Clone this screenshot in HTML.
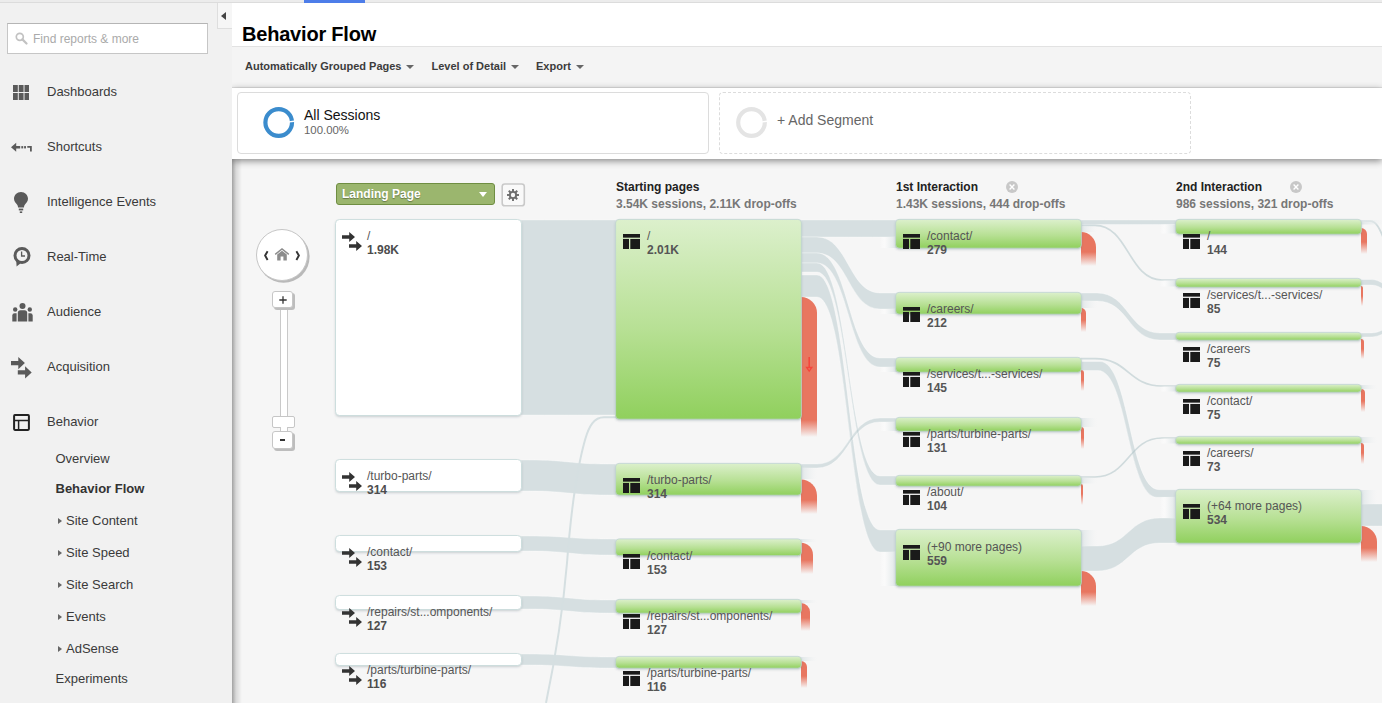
<!DOCTYPE html>
<html><head><meta charset="utf-8"><title>Behavior Flow</title>
<style>
html,body{margin:0;padding:0}
body{width:1382px;height:703px;overflow:hidden;position:relative;background:#f6f6f6;font-family:"Liberation Sans",sans-serif}
.ab{position:absolute}
.t{position:absolute;white-space:nowrap;line-height:1}
.gn{position:absolute;box-sizing:border-box;border-radius:4px;border:1px solid rgba(165,195,185,.6);
 background:linear-gradient(to bottom,#ddf0cd 0%,#b7e094 55%,#90d05d 100%);box-shadow:0 1px 2px rgba(0,0,0,.28)}
.wn{position:absolute;box-sizing:border-box;border-radius:4px;border:1px solid #cfdedd;background:#fff;box-shadow:0 1px 2px rgba(0,0,0,.25)}
.rd{position:absolute}
#side{position:absolute;left:0;top:0;width:232px;height:703px;background:#f1f1f1}
#canvas{position:absolute;left:232px;top:159px;width:1150px;height:544px;background:#f6f6f6;overflow:hidden}
#cv{position:absolute;left:-232px;top:-159px;width:1382px;height:703px}
</style></head><body>
<div id="canvas"><div id="cv">
<svg class="ab" style="left:0;top:0" width="1382" height="703" viewBox="0 0 1382 703"><defs>
<linearGradient id="gg" x1="0" y1="0" x2="0" y2="1"><stop offset="0" stop-color="#dcf0cc"/><stop offset=".55" stop-color="#b7e094"/><stop offset="1" stop-color="#90d05d"/></linearGradient>
<linearGradient id="fl" x1="0" y1="0" x2="1" y2="0"><stop offset="0" stop-color="#fff" stop-opacity="0"/><stop offset=".3" stop-color="#fbfbfb" stop-opacity=".8"/><stop offset="1" stop-color="#dee5e7"/></linearGradient>
<linearGradient id="fr" x1="0" y1="0" x2="1" y2="0"><stop offset="0" stop-color="#dfe6e8"/><stop offset="1" stop-color="#eef1f2" stop-opacity="0"/></linearGradient>
<filter id="sh" x="-5%" y="-50%" width="110%" height="200%"><feGaussianBlur stdDeviation="0.9"/></filter>
<linearGradient id="r1" x1="0" y1="0" x2="0" y2="1"><stop offset="0" stop-color="#e87660"/><stop offset="0.879" stop-color="#e87660"/><stop offset="1" stop-color="#e87660" stop-opacity="0"/></linearGradient><linearGradient id="r2" x1="0" y1="0" x2="0" y2="1"><stop offset="0" stop-color="#e87660"/><stop offset="0.593" stop-color="#e87660"/><stop offset="1" stop-color="#e87660" stop-opacity="0"/></linearGradient><linearGradient id="r3" x1="0" y1="0" x2="0" y2="1"><stop offset="0" stop-color="#e87660"/><stop offset="0.553" stop-color="#e87660"/><stop offset="1" stop-color="#e87660" stop-opacity="0"/></linearGradient><linearGradient id="r4" x1="0" y1="0" x2="0" y2="1"><stop offset="0" stop-color="#e87660"/><stop offset="0.536" stop-color="#e87660"/><stop offset="1" stop-color="#e87660" stop-opacity="0"/></linearGradient><linearGradient id="r5" x1="0" y1="0" x2="0" y2="1"><stop offset="0" stop-color="#e87660"/><stop offset="0.556" stop-color="#e87660"/><stop offset="1" stop-color="#e87660" stop-opacity="0"/></linearGradient><linearGradient id="r6" x1="0" y1="0" x2="0" y2="1"><stop offset="0" stop-color="#e87660"/><stop offset="0.588" stop-color="#e87660"/><stop offset="1" stop-color="#e87660" stop-opacity="0"/></linearGradient><linearGradient id="r7" x1="0" y1="0" x2="0" y2="1"><stop offset="0" stop-color="#e87660"/><stop offset="0.500" stop-color="#e87660"/><stop offset="1" stop-color="#e87660" stop-opacity="0"/></linearGradient><linearGradient id="r8" x1="0" y1="0" x2="0" y2="1"><stop offset="0" stop-color="#e87660"/><stop offset="0.476" stop-color="#e87660"/><stop offset="1" stop-color="#e87660" stop-opacity="0"/></linearGradient><linearGradient id="r9" x1="0" y1="0" x2="0" y2="1"><stop offset="0" stop-color="#e87660"/><stop offset="0.500" stop-color="#e87660"/><stop offset="1" stop-color="#e87660" stop-opacity="0"/></linearGradient><linearGradient id="r10" x1="0" y1="0" x2="0" y2="1"><stop offset="0" stop-color="#e87660"/><stop offset="0.476" stop-color="#e87660"/><stop offset="1" stop-color="#e87660" stop-opacity="0"/></linearGradient><linearGradient id="r11" x1="0" y1="0" x2="0" y2="1"><stop offset="0" stop-color="#e87660"/><stop offset="0.600" stop-color="#e87660"/><stop offset="1" stop-color="#e87660" stop-opacity="0"/></linearGradient><linearGradient id="r12" x1="0" y1="0" x2="0" y2="1"><stop offset="0" stop-color="#e87660"/><stop offset="0.538" stop-color="#e87660"/><stop offset="1" stop-color="#e87660" stop-opacity="0"/></linearGradient><linearGradient id="r13" x1="0" y1="0" x2="0" y2="1"><stop offset="0" stop-color="#e87660"/><stop offset="0.500" stop-color="#e87660"/><stop offset="1" stop-color="#e87660" stop-opacity="0"/></linearGradient><linearGradient id="r14" x1="0" y1="0" x2="0" y2="1"><stop offset="0" stop-color="#e87660"/><stop offset="0.500" stop-color="#e87660"/><stop offset="1" stop-color="#e87660" stop-opacity="0"/></linearGradient><linearGradient id="r15" x1="0" y1="0" x2="0" y2="1"><stop offset="0" stop-color="#e87660"/><stop offset="0.522" stop-color="#e87660"/><stop offset="1" stop-color="#e87660" stop-opacity="0"/></linearGradient><linearGradient id="r16" x1="0" y1="0" x2="0" y2="1"><stop offset="0" stop-color="#e87660"/><stop offset="0.476" stop-color="#e87660"/><stop offset="1" stop-color="#e87660" stop-opacity="0"/></linearGradient><linearGradient id="r17" x1="0" y1="0" x2="0" y2="1"><stop offset="0" stop-color="#e87660"/><stop offset="0.611" stop-color="#e87660"/><stop offset="1" stop-color="#e87660" stop-opacity="0"/></linearGradient></defs>
<path d="M521,220L523,220C568.5,220 568.5,220 614,220L616,220L616,415L614,415C568.5,415 568.5,415 523,415L521,415Z" fill="#a9bfc4" fill-opacity="0.42" stroke="#fff" stroke-opacity="0.55" stroke-width="0.6"/><path d="M521,460L529,460C568.5,460 568.5,464 608,464L616,464L616,495L608,495C568.5,495 568.5,491 529,491L521,491Z" fill="#a9bfc4" fill-opacity="0.42" stroke="#fff" stroke-opacity="0.55" stroke-width="0.6"/><path d="M521,536L529,536C568.5,536 568.5,539 608,539L616,539L616,555L608,555C568.5,555 568.5,551 529,551L521,551Z" fill="#a9bfc4" fill-opacity="0.42" stroke="#fff" stroke-opacity="0.55" stroke-width="0.6"/><path d="M521,596L529,596C568.5,596 568.5,600 608,600L616,600L616,613L608,613C568.5,613 568.5,609 529,609L521,609Z" fill="#a9bfc4" fill-opacity="0.42" stroke="#fff" stroke-opacity="0.55" stroke-width="0.6"/><path d="M521,654L529,654C568.5,654 568.5,657 608,657L616,657L616,668L608,668C568.5,668 568.5,665 529,665L521,665Z" fill="#a9bfc4" fill-opacity="0.42" stroke="#fff" stroke-opacity="0.55" stroke-width="0.6"/><path d="M801,220L803,220C848.5,220 848.5,220 894,220L896,220L896,237L894,237C848.5,237 848.5,237 803,237L801,237Z" fill="#a9bfc4" fill-opacity="0.42" stroke="#fff" stroke-opacity="0.55" stroke-width="0.6"/><path d="M801,237L817,237C848.5,237 848.5,293 880,293L896,293L896,309L880,309C848.5,309 848.5,253 817,253L801,253Z" fill="#a9bfc4" fill-opacity="0.42" stroke="#fff" stroke-opacity="0.55" stroke-width="0.6"/><path d="M801,253L817,253C848.5,253 848.5,358 880,358L896,358L896,367L880,367C848.5,367 848.5,263 817,263L801,263Z" fill="#a9bfc4" fill-opacity="0.42" stroke="#fff" stroke-opacity="0.55" stroke-width="0.6"/><path d="M801,263L817,263C848.5,263 848.5,476 880,476L896,476L896,485L880,485C848.5,485 848.5,272 817,272L801,272Z" fill="#a9bfc4" fill-opacity="0.42" stroke="#fff" stroke-opacity="0.55" stroke-width="0.6"/><path d="M801,275L817,275C848.5,275 848.5,530 880,530L896,530L896,552L880,552C848.5,552 848.5,297 817,297L801,297Z" fill="#a9bfc4" fill-opacity="0.42" stroke="#fff" stroke-opacity="0.55" stroke-width="0.6"/><path d="M801,464L817,464C848.5,464 848.5,418 880,418L896,418L896,422L880,422C848.5,422 848.5,468 817,468L801,468Z" fill="#a9bfc4" fill-opacity="0.42" stroke="#fff" stroke-opacity="0.55" stroke-width="0.6"/><path d="M1081,220L1083,220C1128.5,220 1128.5,220 1174,220L1176,220L1176,224.5L1174,224.5C1128.5,224.5 1128.5,224.5 1083,224.5L1081,224.5Z" fill="#a9bfc4" fill-opacity="0.42" stroke="#fff" stroke-opacity="0.55" stroke-width="0.6"/><path d="M1081,225.3L1095,225.3C1128.5,225.3 1128.5,280 1162,280L1176,280" fill="none" stroke="#a9bfc4" stroke-opacity="0.5" stroke-width="1.7"/><path d="M1081,293L1097,293C1128.5,293 1128.5,333 1160,333L1176,333L1176,340L1160,340C1128.5,340 1128.5,301 1097,301L1081,301Z" fill="#a9bfc4" fill-opacity="0.42" stroke="#fff" stroke-opacity="0.55" stroke-width="0.6"/><path d="M1081,358.6L1095,358.6C1128.5,358.6 1128.5,386 1162,386L1176,386" fill="none" stroke="#a9bfc4" stroke-opacity="0.5" stroke-width="1.7"/><path d="M1081,361.5L1099.9,361.5C1129.4,361.5 1129.4,489.7 1158.9,489.7L1176,489.7L1176,497.3L1157.1,497.3C1127.6,497.3 1127.6,370.5 1098.1,370.5L1081,370.5Z" fill="#a9bfc4" fill-opacity="0.42" stroke="#fff" stroke-opacity="0.55" stroke-width="0.6"/><path d="M1081,477L1095,477C1128.5,477 1128.5,438 1162,438L1176,438" fill="none" stroke="#a9bfc4" stroke-opacity="0.5" stroke-width="1.7"/><path d="M1081,546L1097,546C1128.5,546 1128.5,518 1160,518L1176,518L1176,543L1160,543C1128.5,543 1128.5,571 1097,571L1081,571Z" fill="#a9bfc4" fill-opacity="0.42" stroke="#fff" stroke-opacity="0.55" stroke-width="0.6"/><path d="M1361,504L1363,504C1380.5,504 1380.5,504 1398,504L1400,504L1400,526L1398,526C1380.5,526 1380.5,526 1363,526L1361,526Z" fill="#a9bfc4" fill-opacity="0.42" stroke="#fff" stroke-opacity="0.55" stroke-width="0.6"/><path d="M1361,221.2L1370,221.2C1382.5,221.2 1382.5,250 1395,250L1404,250" fill="none" stroke="#a9bfc4" stroke-opacity="0.5" stroke-width="1.8"/><path d="M1361,279.5L1370,279.5C1382.5,279.5 1382.5,287 1395,287L1404,287L1404,292.5L1395,292.5C1382.5,292.5 1382.5,285 1370,285L1361,285Z" fill="#a9bfc4" fill-opacity="0.42" stroke="#fff" stroke-opacity="0.55" stroke-width="0.6"/><path d="M1361,333L1370,333C1382.5,333 1382.5,327 1395,327L1404,327L1404,331L1395,331C1382.5,331 1382.5,337 1370,337L1361,337Z" fill="#a9bfc4" fill-opacity="0.42" stroke="#fff" stroke-opacity="0.55" stroke-width="0.6"/><path d="M546,703 C556,655 563,610 567,563 C571,510 578,465 585,440 C589,426 594,417.3 604,417.3 L616,417.3" fill="none" stroke="#d5dfe1" stroke-width="2"/><rect x="880" y="237" width="16" height="11" fill="url(#fl)"/><rect x="880" y="309" width="16" height="5" fill="url(#fl)"/><rect x="880" y="367" width="16" height="5" fill="url(#fl)"/><rect x="880" y="422" width="16" height="9" fill="url(#fl)"/><rect x="880" y="552" width="16" height="34" fill="url(#fl)"/><rect x="1160" y="224.5" width="16" height="9" fill="url(#fl)"/><rect x="1160" y="280.5" width="16" height="6" fill="url(#fl)"/><rect x="1160" y="386.5" width="16" height="5" fill="url(#fl)"/><rect x="1160" y="438.5" width="16" height="5" fill="url(#fl)"/><rect x="1160" y="497" width="16" height="21" fill="url(#fl)"/><rect x="801" y="468" width="16" height="11" fill="url(#fr)"/><rect x="801" y="539" width="16" height="3" fill="url(#fr)"/><rect x="801" y="600" width="16" height="3" fill="url(#fr)"/><rect x="801" y="657" width="16" height="4" fill="url(#fr)"/><rect x="1081" y="226" width="16" height="6" fill="url(#fr)"/><rect x="1081" y="301" width="16" height="7" fill="url(#fr)"/><rect x="1081" y="418" width="16" height="9" fill="url(#fr)"/><rect x="1081" y="477.5" width="16" height="6" fill="url(#fr)"/><rect x="1081" y="530" width="16" height="16" fill="url(#fr)"/><rect x="1361" y="220" width="24" height="4.5" fill="url(#fr)"/><rect x="1361" y="385" width="16" height="4" fill="url(#fr)"/><rect x="1361" y="437" width="16" height="6" fill="url(#fr)"/><rect x="1361" y="490" width="16" height="14" fill="url(#fr)"/><path d="M801,297H801A16,16 0 0 1 817,313V437H801Z" fill="url(#r1)"/><path d="M801,479.6H801A16,16 0 0 1 817,495.6V514H801Z" fill="url(#r2)"/><path d="M801,542.7H801A12,12 0 0 1 813,554.7V574H801Z" fill="url(#r3)"/><path d="M801,603H801A9,9 0 0 1 810,612V631H801Z" fill="url(#r4)"/><path d="M801,661H801A6,6 0 0 1 807,667V688H801Z" fill="url(#r5)"/><path d="M1081,232H1081A15,15 0 0 1 1096,247V266H1081Z" fill="url(#r6)"/><path d="M1081,308H1081A5,5 0 0 1 1086,313V332H1081Z" fill="url(#r7)"/><path d="M1081,370H1081A3,3 0 0 1 1084,373V391H1081Z" fill="url(#r8)"/><path d="M1081,427H1081A3,3 0 0 1 1084,430V449H1081Z" fill="url(#r9)"/><path d="M1081,484H1081A2,2 0 0 1 1083,486V505H1081Z" fill="url(#r10)"/><path d="M1081,571H1081A15,15 0 0 1 1096,586V606H1081Z" fill="url(#r11)"/><path d="M1361,228H1361A6,6 0 0 1 1367,234V254H1361Z" fill="url(#r12)"/><path d="M1361,286H1361A2,2 0 0 1 1363,288V306H1361Z" fill="url(#r13)"/><path d="M1361,339H1361A3,3 0 0 1 1364,342V359H1361Z" fill="url(#r14)"/><path d="M1361,389H1361A4,4 0 0 1 1365,393V412H1361Z" fill="url(#r15)"/><path d="M1361,443H1361A3,3 0 0 1 1364,446V464H1361Z" fill="url(#r16)"/><path d="M1361,526H1361A16,16 0 0 1 1377,542V562H1361Z" fill="url(#r17)"/><rect x="335.5" y="220.8" width="186" height="196" rx="4" fill="#46606a" fill-opacity=".3" filter="url(#sh)"/><rect x="335.5" y="219.5" width="186" height="196" rx="4" fill="#fff" stroke="#c9dbdb" stroke-width=".9"/><rect x="335.5" y="460.8" width="186" height="32" rx="4" fill="#46606a" fill-opacity=".3" filter="url(#sh)"/><rect x="335.5" y="459.5" width="186" height="32" rx="4" fill="#fff" stroke="#c9dbdb" stroke-width=".9"/><rect x="335.5" y="536.8" width="186" height="16" rx="4" fill="#46606a" fill-opacity=".3" filter="url(#sh)"/><rect x="335.5" y="535.5" width="186" height="16" rx="4" fill="#fff" stroke="#c9dbdb" stroke-width=".9"/><rect x="335.5" y="596.8" width="186" height="14" rx="4" fill="#46606a" fill-opacity=".3" filter="url(#sh)"/><rect x="335.5" y="595.5" width="186" height="14" rx="4" fill="#fff" stroke="#c9dbdb" stroke-width=".9"/><rect x="335.5" y="654.8" width="186" height="12" rx="4" fill="#46606a" fill-opacity=".3" filter="url(#sh)"/><rect x="335.5" y="653.5" width="186" height="12" rx="4" fill="#fff" stroke="#c9dbdb" stroke-width=".9"/><rect x="615.6" y="220.70000000000002" width="185.8" height="199.8" rx="3.5" fill="#46606a" fill-opacity=".3" filter="url(#sh)"/><rect x="615.6" y="219.4" width="185.8" height="199.8" rx="3.5" fill="url(#gg)" stroke="#bfd3d2" stroke-width=".8"/><rect x="615.6" y="464.7" width="185.8" height="31.8" rx="3.5" fill="#46606a" fill-opacity=".3" filter="url(#sh)"/><rect x="615.6" y="463.4" width="185.8" height="31.8" rx="3.5" fill="url(#gg)" stroke="#bfd3d2" stroke-width=".8"/><rect x="615.6" y="540.1999999999999" width="185.8" height="16.8" rx="3.5" fill="#46606a" fill-opacity=".3" filter="url(#sh)"/><rect x="615.6" y="538.9" width="185.8" height="16.8" rx="3.5" fill="url(#gg)" stroke="#bfd3d2" stroke-width=".8"/><rect x="615.6" y="600.6999999999999" width="185.8" height="13.8" rx="3.5" fill="#46606a" fill-opacity=".3" filter="url(#sh)"/><rect x="615.6" y="599.4" width="185.8" height="13.8" rx="3.5" fill="url(#gg)" stroke="#bfd3d2" stroke-width=".8"/><rect x="615.6" y="657.6999999999999" width="185.8" height="11.8" rx="3.5" fill="#46606a" fill-opacity=".3" filter="url(#sh)"/><rect x="615.6" y="656.4" width="185.8" height="11.8" rx="3.5" fill="url(#gg)" stroke="#bfd3d2" stroke-width=".8"/><rect x="895.6" y="220.70000000000002" width="185.8" height="28.8" rx="3.5" fill="#46606a" fill-opacity=".3" filter="url(#sh)"/><rect x="895.6" y="219.4" width="185.8" height="28.8" rx="3.5" fill="url(#gg)" stroke="#bfd3d2" stroke-width=".8"/><rect x="895.6" y="293.7" width="185.8" height="21.8" rx="3.5" fill="#46606a" fill-opacity=".3" filter="url(#sh)"/><rect x="895.6" y="292.4" width="185.8" height="21.8" rx="3.5" fill="url(#gg)" stroke="#bfd3d2" stroke-width=".8"/><rect x="895.6" y="358.7" width="185.8" height="14.8" rx="3.5" fill="#46606a" fill-opacity=".3" filter="url(#sh)"/><rect x="895.6" y="357.4" width="185.8" height="14.8" rx="3.5" fill="url(#gg)" stroke="#bfd3d2" stroke-width=".8"/><rect x="895.6" y="418.7" width="185.8" height="13.8" rx="3.5" fill="#46606a" fill-opacity=".3" filter="url(#sh)"/><rect x="895.6" y="417.4" width="185.8" height="13.8" rx="3.5" fill="url(#gg)" stroke="#bfd3d2" stroke-width=".8"/><rect x="895.6" y="476.7" width="185.8" height="10.8" rx="3.5" fill="#46606a" fill-opacity=".3" filter="url(#sh)"/><rect x="895.6" y="475.4" width="185.8" height="10.8" rx="3.5" fill="url(#gg)" stroke="#bfd3d2" stroke-width=".8"/><rect x="895.6" y="530.6999999999999" width="185.8" height="56.8" rx="3.5" fill="#46606a" fill-opacity=".3" filter="url(#sh)"/><rect x="895.6" y="529.4" width="185.8" height="56.8" rx="3.5" fill="url(#gg)" stroke="#bfd3d2" stroke-width=".8"/><rect x="1175.6" y="220.70000000000002" width="185.8" height="14.8" rx="3.5" fill="#46606a" fill-opacity=".3" filter="url(#sh)"/><rect x="1175.6" y="219.4" width="185.8" height="14.8" rx="3.5" fill="url(#gg)" stroke="#bfd3d2" stroke-width=".8"/><rect x="1175.6" y="279.7" width="185.8" height="8.8" rx="3.5" fill="#46606a" fill-opacity=".3" filter="url(#sh)"/><rect x="1175.6" y="278.4" width="185.8" height="8.8" rx="3.5" fill="url(#gg)" stroke="#bfd3d2" stroke-width=".8"/><rect x="1175.6" y="333.7" width="185.8" height="7.8" rx="3.5" fill="#46606a" fill-opacity=".3" filter="url(#sh)"/><rect x="1175.6" y="332.4" width="185.8" height="7.8" rx="3.5" fill="url(#gg)" stroke="#bfd3d2" stroke-width=".8"/><rect x="1175.6" y="385.7" width="185.8" height="7.8" rx="3.5" fill="#46606a" fill-opacity=".3" filter="url(#sh)"/><rect x="1175.6" y="384.4" width="185.8" height="7.8" rx="3.5" fill="url(#gg)" stroke="#bfd3d2" stroke-width=".8"/><rect x="1175.6" y="437.7" width="185.8" height="7.8" rx="3.5" fill="#46606a" fill-opacity=".3" filter="url(#sh)"/><rect x="1175.6" y="436.4" width="185.8" height="7.8" rx="3.5" fill="url(#gg)" stroke="#bfd3d2" stroke-width=".8"/><rect x="1175.6" y="490.7" width="185.8" height="53.8" rx="3.5" fill="#46606a" fill-opacity=".3" filter="url(#sh)"/><rect x="1175.6" y="489.4" width="185.8" height="53.8" rx="3.5" fill="url(#gg)" stroke="#bfd3d2" stroke-width=".8"/></svg>

<svg class="ab" style="left:342px;top:232px" width="21" height="20" viewBox="0 0 21 20"><path d="M0,3.2 H7.2 V0 L13,5 L7.2,10 V6.8 H0 Z" fill="#333"/><path d="M0,3.2 H7.2 V0 L13,5 L7.2,10 V6.8 H0 Z" fill="#333" transform="translate(7,9)"/></svg><div class="t" style="left:367px;top:229.84px;font-size:12px;color:#555;">/</div><div class="t" style="left:367px;top:243.84px;font-size:12px;font-weight:bold;color:#4d4d4d;">1.98K</div><svg class="ab" style="left:342px;top:472px" width="21" height="20" viewBox="0 0 21 20"><path d="M0,3.2 H7.2 V0 L13,5 L7.2,10 V6.8 H0 Z" fill="#333"/><path d="M0,3.2 H7.2 V0 L13,5 L7.2,10 V6.8 H0 Z" fill="#333" transform="translate(7,9)"/></svg><div class="t" style="left:367px;top:469.84px;font-size:12px;color:#555;">/turbo-parts/</div><div class="t" style="left:367px;top:483.84px;font-size:12px;font-weight:bold;color:#4d4d4d;">314</div><svg class="ab" style="left:342px;top:548px" width="21" height="20" viewBox="0 0 21 20"><path d="M0,3.2 H7.2 V0 L13,5 L7.2,10 V6.8 H0 Z" fill="#333"/><path d="M0,3.2 H7.2 V0 L13,5 L7.2,10 V6.8 H0 Z" fill="#333" transform="translate(7,9)"/></svg><div class="t" style="left:367px;top:545.84px;font-size:12px;color:#555;">/contact/</div><div class="t" style="left:367px;top:559.84px;font-size:12px;font-weight:bold;color:#4d4d4d;">153</div><svg class="ab" style="left:342px;top:608px" width="21" height="20" viewBox="0 0 21 20"><path d="M0,3.2 H7.2 V0 L13,5 L7.2,10 V6.8 H0 Z" fill="#333"/><path d="M0,3.2 H7.2 V0 L13,5 L7.2,10 V6.8 H0 Z" fill="#333" transform="translate(7,9)"/></svg><div class="t" style="left:367px;top:605.84px;font-size:12px;color:#555;">/repairs/st...omponents/</div><div class="t" style="left:367px;top:619.84px;font-size:12px;font-weight:bold;color:#4d4d4d;">127</div><svg class="ab" style="left:342px;top:666px" width="21" height="20" viewBox="0 0 21 20"><path d="M0,3.2 H7.2 V0 L13,5 L7.2,10 V6.8 H0 Z" fill="#333"/><path d="M0,3.2 H7.2 V0 L13,5 L7.2,10 V6.8 H0 Z" fill="#333" transform="translate(7,9)"/></svg><div class="t" style="left:367px;top:663.84px;font-size:12px;color:#555;">/parts/turbine-parts/</div><div class="t" style="left:367px;top:677.84px;font-size:12px;font-weight:bold;color:#4d4d4d;">116</div><svg class="ab" style="left:623px;top:234.3px" width="17" height="15" viewBox="0 0 17 15.2" preserveAspectRatio="none"><rect x="0" y="0" width="17" height="3.7" fill="#1a1a1a"/><rect x="0" y="5" width="6" height="10.2" fill="#1a1a1a"/><rect x="7.3" y="5" width="9.7" height="10.2" fill="#1a1a1a"/></svg><div class="t" style="left:647px;top:229.84px;font-size:12px;color:#555;">/</div><div class="t" style="left:647px;top:243.84px;font-size:12px;font-weight:bold;color:#555;">2.01K</div><svg class="ab" style="left:623px;top:478.3px" width="17" height="15" viewBox="0 0 17 15.2" preserveAspectRatio="none"><rect x="0" y="0" width="17" height="3.7" fill="#1a1a1a"/><rect x="0" y="5" width="6" height="10.2" fill="#1a1a1a"/><rect x="7.3" y="5" width="9.7" height="10.2" fill="#1a1a1a"/></svg><div class="t" style="left:647px;top:473.84px;font-size:12px;color:#555;">/turbo-parts/</div><div class="t" style="left:647px;top:487.84px;font-size:12px;font-weight:bold;color:#555;">314</div><svg class="ab" style="left:623px;top:553.8px" width="17" height="15" viewBox="0 0 17 15.2" preserveAspectRatio="none"><rect x="0" y="0" width="17" height="3.7" fill="#1a1a1a"/><rect x="0" y="5" width="6" height="10.2" fill="#1a1a1a"/><rect x="7.3" y="5" width="9.7" height="10.2" fill="#1a1a1a"/></svg><div class="t" style="left:647px;top:549.84px;font-size:12px;color:#555;">/contact/</div><div class="t" style="left:647px;top:563.84px;font-size:12px;font-weight:bold;color:#555;">153</div><svg class="ab" style="left:623px;top:614.3px" width="17" height="15" viewBox="0 0 17 15.2" preserveAspectRatio="none"><rect x="0" y="0" width="17" height="3.7" fill="#1a1a1a"/><rect x="0" y="5" width="6" height="10.2" fill="#1a1a1a"/><rect x="7.3" y="5" width="9.7" height="10.2" fill="#1a1a1a"/></svg><div class="t" style="left:647px;top:609.84px;font-size:12px;color:#555;">/repairs/st...omponents/</div><div class="t" style="left:647px;top:623.84px;font-size:12px;font-weight:bold;color:#555;">127</div><svg class="ab" style="left:623px;top:671.3px" width="17" height="15" viewBox="0 0 17 15.2" preserveAspectRatio="none"><rect x="0" y="0" width="17" height="3.7" fill="#1a1a1a"/><rect x="0" y="5" width="6" height="10.2" fill="#1a1a1a"/><rect x="7.3" y="5" width="9.7" height="10.2" fill="#1a1a1a"/></svg><div class="t" style="left:647px;top:666.84px;font-size:12px;color:#555;">/parts/turbine-parts/</div><div class="t" style="left:647px;top:680.84px;font-size:12px;font-weight:bold;color:#555;">116</div><svg class="ab" style="left:903px;top:234.3px" width="17" height="15" viewBox="0 0 17 15.2" preserveAspectRatio="none"><rect x="0" y="0" width="17" height="3.7" fill="#1a1a1a"/><rect x="0" y="5" width="6" height="10.2" fill="#1a1a1a"/><rect x="7.3" y="5" width="9.7" height="10.2" fill="#1a1a1a"/></svg><div class="t" style="left:927px;top:229.84px;font-size:12px;color:#555;">/contact/</div><div class="t" style="left:927px;top:243.84px;font-size:12px;font-weight:bold;color:#555;">279</div><svg class="ab" style="left:903px;top:307.3px" width="17" height="15" viewBox="0 0 17 15.2" preserveAspectRatio="none"><rect x="0" y="0" width="17" height="3.7" fill="#1a1a1a"/><rect x="0" y="5" width="6" height="10.2" fill="#1a1a1a"/><rect x="7.3" y="5" width="9.7" height="10.2" fill="#1a1a1a"/></svg><div class="t" style="left:927px;top:302.84px;font-size:12px;color:#555;">/careers/</div><div class="t" style="left:927px;top:316.84px;font-size:12px;font-weight:bold;color:#555;">212</div><svg class="ab" style="left:903px;top:372.3px" width="17" height="15" viewBox="0 0 17 15.2" preserveAspectRatio="none"><rect x="0" y="0" width="17" height="3.7" fill="#1a1a1a"/><rect x="0" y="5" width="6" height="10.2" fill="#1a1a1a"/><rect x="7.3" y="5" width="9.7" height="10.2" fill="#1a1a1a"/></svg><div class="t" style="left:927px;top:367.84px;font-size:12px;color:#555;">/services/t...-services/</div><div class="t" style="left:927px;top:381.84px;font-size:12px;font-weight:bold;color:#555;">145</div><svg class="ab" style="left:903px;top:432.3px" width="17" height="15" viewBox="0 0 17 15.2" preserveAspectRatio="none"><rect x="0" y="0" width="17" height="3.7" fill="#1a1a1a"/><rect x="0" y="5" width="6" height="10.2" fill="#1a1a1a"/><rect x="7.3" y="5" width="9.7" height="10.2" fill="#1a1a1a"/></svg><div class="t" style="left:927px;top:427.84px;font-size:12px;color:#555;">/parts/turbine-parts/</div><div class="t" style="left:927px;top:441.84px;font-size:12px;font-weight:bold;color:#555;">131</div><svg class="ab" style="left:903px;top:490.3px" width="17" height="15" viewBox="0 0 17 15.2" preserveAspectRatio="none"><rect x="0" y="0" width="17" height="3.7" fill="#1a1a1a"/><rect x="0" y="5" width="6" height="10.2" fill="#1a1a1a"/><rect x="7.3" y="5" width="9.7" height="10.2" fill="#1a1a1a"/></svg><div class="t" style="left:927px;top:485.84px;font-size:12px;color:#555;">/about/</div><div class="t" style="left:927px;top:499.84px;font-size:12px;font-weight:bold;color:#555;">104</div><svg class="ab" style="left:903px;top:545.0999999999999px" width="17" height="15" viewBox="0 0 17 15.2" preserveAspectRatio="none"><rect x="0" y="0" width="17" height="3.7" fill="#1a1a1a"/><rect x="0" y="5" width="6" height="10.2" fill="#1a1a1a"/><rect x="7.3" y="5" width="9.7" height="10.2" fill="#1a1a1a"/></svg><div class="t" style="left:927px;top:540.84px;font-size:12px;color:#555;">(+90 more pages)</div><div class="t" style="left:927px;top:554.84px;font-size:12px;font-weight:bold;color:#555;">559</div><svg class="ab" style="left:1183px;top:234.3px" width="17" height="15" viewBox="0 0 17 15.2" preserveAspectRatio="none"><rect x="0" y="0" width="17" height="3.7" fill="#1a1a1a"/><rect x="0" y="5" width="6" height="10.2" fill="#1a1a1a"/><rect x="7.3" y="5" width="9.7" height="10.2" fill="#1a1a1a"/></svg><div class="t" style="left:1207px;top:229.84px;font-size:12px;color:#555;">/</div><div class="t" style="left:1207px;top:243.84px;font-size:12px;font-weight:bold;color:#555;">144</div><svg class="ab" style="left:1183px;top:293.3px" width="17" height="15" viewBox="0 0 17 15.2" preserveAspectRatio="none"><rect x="0" y="0" width="17" height="3.7" fill="#1a1a1a"/><rect x="0" y="5" width="6" height="10.2" fill="#1a1a1a"/><rect x="7.3" y="5" width="9.7" height="10.2" fill="#1a1a1a"/></svg><div class="t" style="left:1207px;top:288.84px;font-size:12px;color:#555;">/services/t...-services/</div><div class="t" style="left:1207px;top:302.84px;font-size:12px;font-weight:bold;color:#555;">85</div><svg class="ab" style="left:1183px;top:347.3px" width="17" height="15" viewBox="0 0 17 15.2" preserveAspectRatio="none"><rect x="0" y="0" width="17" height="3.7" fill="#1a1a1a"/><rect x="0" y="5" width="6" height="10.2" fill="#1a1a1a"/><rect x="7.3" y="5" width="9.7" height="10.2" fill="#1a1a1a"/></svg><div class="t" style="left:1207px;top:342.84px;font-size:12px;color:#555;">/careers</div><div class="t" style="left:1207px;top:356.84px;font-size:12px;font-weight:bold;color:#555;">75</div><svg class="ab" style="left:1183px;top:399.3px" width="17" height="15" viewBox="0 0 17 15.2" preserveAspectRatio="none"><rect x="0" y="0" width="17" height="3.7" fill="#1a1a1a"/><rect x="0" y="5" width="6" height="10.2" fill="#1a1a1a"/><rect x="7.3" y="5" width="9.7" height="10.2" fill="#1a1a1a"/></svg><div class="t" style="left:1207px;top:394.84px;font-size:12px;color:#555;">/contact/</div><div class="t" style="left:1207px;top:408.84px;font-size:12px;font-weight:bold;color:#555;">75</div><svg class="ab" style="left:1183px;top:451.3px" width="17" height="15" viewBox="0 0 17 15.2" preserveAspectRatio="none"><rect x="0" y="0" width="17" height="3.7" fill="#1a1a1a"/><rect x="0" y="5" width="6" height="10.2" fill="#1a1a1a"/><rect x="7.3" y="5" width="9.7" height="10.2" fill="#1a1a1a"/></svg><div class="t" style="left:1207px;top:446.84px;font-size:12px;color:#555;">/careers/</div><div class="t" style="left:1207px;top:460.84px;font-size:12px;font-weight:bold;color:#555;">73</div><svg class="ab" style="left:1183px;top:504.3px" width="17" height="15" viewBox="0 0 17 15.2" preserveAspectRatio="none"><rect x="0" y="0" width="17" height="3.7" fill="#1a1a1a"/><rect x="0" y="5" width="6" height="10.2" fill="#1a1a1a"/><rect x="7.3" y="5" width="9.7" height="10.2" fill="#1a1a1a"/></svg><div class="t" style="left:1207px;top:499.84px;font-size:12px;color:#555;">(+64 more pages)</div><div class="t" style="left:1207px;top:513.84px;font-size:12px;font-weight:bold;color:#555;">534</div><svg class="ab" style="left:805px;top:356px" width="9" height="17" viewBox="0 0 9 17"><path d="M4.2,1 V11" stroke="#f5443a" stroke-width="1.5" fill="none"/><path d="M1.6,11.5 H6.8 L4.2,15.2 Z" fill="none" stroke="#f5443a" stroke-width="1.3"/></svg>
<div class="t" style="left:616px;top:180.84px;font-size:12px;font-weight:bold;color:#222;">Starting pages</div><div class="t" style="left:616px;top:197.84px;font-size:12px;font-weight:bold;color:#777;">3.54K sessions, 2.11K drop-offs</div><div class="t" style="left:896px;top:180.84px;font-size:12px;font-weight:bold;color:#222;">1st Interaction</div><div class="t" style="left:896px;top:197.84px;font-size:12px;font-weight:bold;color:#777;">1.43K sessions, 444 drop-offs</div><div class="t" style="left:1176px;top:180.84px;font-size:12px;font-weight:bold;color:#222;">2nd Interaction</div><div class="t" style="left:1176px;top:197.84px;font-size:12px;font-weight:bold;color:#777;">986 sessions, 321 drop-offs</div><svg class="ab" style="left:1006px;top:181px" width="12" height="12" viewBox="0 0 12 12"><circle cx="6" cy="6" r="6" fill="#c8c8c8"/><path d="M3.6,3.6 L8.4,8.4 M8.4,3.6 L3.6,8.4" stroke="#fff" stroke-width="1.4"/></svg><svg class="ab" style="left:1290px;top:181px" width="12" height="12" viewBox="0 0 12 12"><circle cx="6" cy="6" r="6" fill="#c8c8c8"/><path d="M3.6,3.6 L8.4,8.4 M8.4,3.6 L3.6,8.4" stroke="#fff" stroke-width="1.4"/></svg>

<div class="ab" style="left:336px;top:183px;width:159px;height:22px;box-sizing:border-box;background:#9bb66e;border:1px solid #6f8e42;border-radius:3px"></div>
<div class="t" style="left:342px;top:187.5px;font-size:12px;font-weight:bold;color:#fff;text-shadow:0 1px 1px rgba(0,0,0,.35)">Landing Page</div>
<div class="ab" style="left:478.5px;top:192px;width:0;height:0;border-top:5px solid #fff;border-left:4.5px solid transparent;border-right:4.5px solid transparent"></div>
<svg class="ab" style="left:498px;top:180px" width="30" height="30" viewBox="0 0 30 30"><rect x="4.2" y="4" width="22.1" height="21.8" rx="2.6" fill="#f9f9f9" stroke="#c9c9c9" stroke-width="1.6"/>
<g transform="translate(15,15)"><g fill="#6e6e6e"><circle r="4.1"/><rect x="-0.95" y="-6" width="1.9" height="12"/><rect x="-0.95" y="-6" width="1.9" height="12" transform="rotate(45)"/><rect x="-0.95" y="-6" width="1.9" height="12" transform="rotate(90)"/><rect x="-0.95" y="-6" width="1.9" height="12" transform="rotate(135)"/></g><circle r="2.2" fill="#f9f9f9"/></g></svg>
<div class="ab" style="left:256px;top:229.3px;width:52px;height:52px;box-sizing:border-box;border-radius:50%;background:#fff;border:1px solid #c6c6c6;box-shadow:1.6px 1.8px 0 #b9b9b9"></div>
<svg class="ab" style="left:262px;top:247.3px" width="40" height="16" viewBox="0 0 40 16">
<path d="M5.6,4.3 L3.1,8.6 L5.6,12.9" fill="none" stroke="#333" stroke-width="1.9"/><path d="M34.4,4.3 L36.9,8.6 L34.4,12.9" fill="none" stroke="#333" stroke-width="1.9"/>
<path d="M13.2,7.4 L20,2 L26.8,7.4" stroke="#8c8c8c" stroke-width="1.4" fill="none"/><path d="M15.2,7.4 L20,3.8 L24.8,7.4 V13.5 H21.4 V9.6 H18.6 V13.5 H15.2 Z" fill="#8c8c8c"/></svg>
<div class="ab" style="left:280px;top:305px;width:8px;height:115px;box-sizing:border-box;background:#fff;border:1px solid #c9c9c9"></div>
<div class="ab" style="left:272px;top:291px;width:21px;height:17px;box-sizing:border-box;background:#fff;border:1px solid #c6c6c6;border-radius:3px;box-shadow:2px 2px 0 #bdbdbd"></div>
<svg class="ab" style="left:272px;top:291px" width="21" height="17"><path d="M7.3,9 H14.7 M11,5.3 V12.7" stroke="#333" stroke-width="1.3" fill="none"/></svg>
<div class="ab" style="left:272px;top:416px;width:23px;height:12px;box-sizing:border-box;background:#fff;border:1px solid #c6c6c6;border-radius:2px"></div>
<div class="ab" style="left:280px;top:427px;width:8px;height:5px;box-sizing:border-box;background:#fff;border:1px solid #c9c9c9;border-top:0"></div>
<div class="ab" style="left:272px;top:431px;width:21px;height:17.5px;box-sizing:border-box;background:#fff;border:1px solid #c6c6c6;border-radius:3px;box-shadow:2px 2px 0 #bdbdbd"></div>
<div class="ab" style="left:280.3px;top:439px;width:4.5px;height:1.8px;background:#333"></div>

</div>
<div class="ab" style="left:0;top:0;width:10px;height:544px;background:linear-gradient(to right,rgba(0,0,0,.34),rgba(0,0,0,.12) 40%,rgba(0,0,0,0))"></div>
</div>

<div class="ab" style="left:232px;top:0;width:1150px;height:46px;background:#fff"></div>
<div class="ab" style="left:0;top:0;width:1382px;height:3px;background:#ececec;border-bottom:1px solid #dcdcdc;box-sizing:border-box;z-index:5"></div>
<div class="ab" style="left:304px;top:0;width:61px;height:3px;background:#4d7de9;z-index:6"></div>
<div class="t" style="left:242px;top:24px;font-size:20px;letter-spacing:-0.2px;font-weight:bold;color:#000">Behavior Flow</div>
<div class="ab" style="left:232px;top:46px;width:1150px;height:42px;background:#f4f4f4;border-top:1px solid #e2e2e2;border-bottom:1px solid #e2e2e2;box-sizing:border-box"></div>
<div class="t" style="left:245px;top:60.7px;font-size:11px;font-weight:bold;color:#3c3c3c">Automatically Grouped Pages</div>
<div class="t" style="left:431.5px;top:60.7px;font-size:11px;font-weight:bold;color:#3c3c3c">Level of Detail</div>
<div class="t" style="left:536px;top:60.7px;font-size:11px;font-weight:bold;color:#3c3c3c">Export</div>
<div class="ab" style="left:405.5px;top:65px;width:0;height:0;border-top:4px solid #666;border-left:4px solid transparent;border-right:4px solid transparent"></div>
<div class="ab" style="left:510.5px;top:65px;width:0;height:0;border-top:4px solid #666;border-left:4px solid transparent;border-right:4px solid transparent"></div>
<div class="ab" style="left:575.5px;top:65px;width:0;height:0;border-top:4px solid #666;border-left:4px solid transparent;border-right:4px solid transparent"></div>
<div class="ab" style="left:232px;top:88px;width:1150px;height:71px;background:#fff;box-shadow:0 2px 7px rgba(0,0,0,.45)"></div>
<div class="ab" style="left:237px;top:92px;width:472px;height:62px;box-sizing:border-box;border:1px solid #dcdcdc;border-radius:4px;background:#fff"></div>
<svg class="ab" style="left:260px;top:105px" width="36" height="36" viewBox="0 0 36 36"><circle cx="18.7" cy="17.5" r="13.3" fill="none" stroke="#3b8ccd" stroke-width="4.2"/><rect x="29" y="16" width="5" height="1.3" fill="#fff" transform="rotate(-8 31 16.6)"/></svg>
<div class="t" style="left:304px;top:108.2px;font-size:14px;color:#111">All Sessions</div>
<div class="t" style="left:304px;top:125.2px;font-size:11.4px;color:#666">100.00%</div>
<div class="ab" style="left:719px;top:92px;width:472px;height:62px;box-sizing:border-box;border:1px dashed #dcdcdc;border-radius:4px"></div>
<svg class="ab" style="left:733px;top:105px" width="36" height="36" viewBox="0 0 36 36"><circle cx="18.5" cy="17.5" r="13.3" fill="none" stroke="#e4e4e4" stroke-width="4.2"/><rect x="29" y="16" width="5" height="1.3" fill="#fff" transform="rotate(-8 31 16.6)"/></svg>
<div class="t" style="left:777px;top:112.6px;font-size:14px;color:#666">+ Add Segment</div>

<div id="side">
<div class="t" style="left:47px;top:85.00px;font-size:13px;color:#3a3a3a;">Dashboards</div><div class="t" style="left:47px;top:140.00px;font-size:13px;color:#3a3a3a;">Shortcuts</div><div class="t" style="left:47px;top:195.00px;font-size:13px;color:#3a3a3a;">Intelligence Events</div><div class="t" style="left:47px;top:250.00px;font-size:13px;color:#3a3a3a;">Real-Time</div><div class="t" style="left:47px;top:305.00px;font-size:13px;color:#3a3a3a;">Audience</div><div class="t" style="left:47px;top:360.00px;font-size:13px;color:#3a3a3a;">Acquisition</div><div class="t" style="left:47px;top:415.00px;font-size:13px;color:#3a3a3a;">Behavior</div><div class="t" style="left:55.5px;top:452.00px;font-size:13px;color:#3a3a3a;">Overview</div><div class="t" style="left:55.5px;top:482.00px;font-size:13px;font-weight:bold;color:#333;">Behavior Flow</div><div class="ab" style="left:58px;top:517.8px;width:0;height:0;border-left:4.6px solid #666;border-top:3.8px solid transparent;border-bottom:3.8px solid transparent"></div><div class="t" style="left:66px;top:514.00px;font-size:13px;color:#3a3a3a;">Site Content</div><div class="ab" style="left:58px;top:549.8px;width:0;height:0;border-left:4.6px solid #666;border-top:3.8px solid transparent;border-bottom:3.8px solid transparent"></div><div class="t" style="left:66px;top:546.00px;font-size:13px;color:#3a3a3a;">Site Speed</div><div class="ab" style="left:58px;top:581.8px;width:0;height:0;border-left:4.6px solid #666;border-top:3.8px solid transparent;border-bottom:3.8px solid transparent"></div><div class="t" style="left:66px;top:578.00px;font-size:13px;color:#3a3a3a;">Site Search</div><div class="ab" style="left:58px;top:613.8px;width:0;height:0;border-left:4.6px solid #666;border-top:3.8px solid transparent;border-bottom:3.8px solid transparent"></div><div class="t" style="left:66px;top:610.00px;font-size:13px;color:#3a3a3a;">Events</div><div class="ab" style="left:58px;top:645.8px;width:0;height:0;border-left:4.6px solid #666;border-top:3.8px solid transparent;border-bottom:3.8px solid transparent"></div><div class="t" style="left:66px;top:642.00px;font-size:13px;color:#3a3a3a;">AdSense</div><div class="t" style="left:55.5px;top:672.00px;font-size:13px;color:#3a3a3a;">Experiments</div><svg class="ab" style="left:13px;top:85px" width="16.3" height="15" viewBox="0 0 17 15" preserveAspectRatio="none"><g fill="#5a5a5a"><rect x="0" y="0" width="5" height="7"/><rect x="6" y="0" width="5" height="7"/><rect x="12" y="0" width="5" height="7"/><rect x="0" y="8" width="5" height="7"/><rect x="6" y="8" width="5" height="7"/><rect x="12" y="8" width="5" height="7"/></g></svg><svg class="ab" style="left:11px;top:142px" width="22" height="11" viewBox="0 0 22 11"><g fill="#5a5a5a"><path d="M0,5.2 L5.2,0.8 V4.1 H9.2 V6.4 H5.2 V9.7 Z"/><rect x="10.3" y="4.1" width="1.9" height="2.3"/><rect x="13.1" y="4.1" width="1.9" height="2.3"/><path d="M16.3,4.1 H20.8 V9.6 H19 V5.8 H16.3 Z"/></g></svg><svg class="ab" style="left:14px;top:192px" width="14" height="21" viewBox="0 0 14 21"><g fill="#5a5a5a"><path d="M7,0 C11,0 14,3 14,6.8 C14,9.5 12.3,11 11,12.6 C10.2,13.6 10,14.5 10,15.5 H4 C4,14.5 3.8,13.6 3,12.6 C1.7,11 0,9.5 0,6.8 C0,3 3,0 7,0 Z"/><rect x="4.8" y="16.6" width="4.4" height="1.8"/><rect x="5.8" y="19.4" width="2.4" height="1.6"/></g></svg><svg class="ab" style="left:13px;top:247px" width="18" height="20" viewBox="0 0 18 20"><path d="M3.2,13.5 L3.6,19.5 L8.5,15.5 Z" fill="#5a5a5a"/><circle cx="9" cy="8.5" r="7" fill="#f1f1f1" stroke="#5a5a5a" stroke-width="3"/><path d="M8.6,4.5 V9 H12" fill="none" stroke="#5a5a5a" stroke-width="1.3"/></svg><svg class="ab" style="left:11.5px;top:303px" width="21" height="19" viewBox="0 0 21 19"><g fill="#5a5a5a"><circle cx="10.5" cy="3" r="3"/><circle cx="3.2" cy="6.5" r="2.2"/><circle cx="17.8" cy="6.5" r="2.2"/><path d="M5.8,18.5 V10 Q5.8,7.3 8.5,7.3 H12.5 Q15.2,7.3 15.2,10 V18.5 Z"/><path d="M0.3,18.5 V12.5 Q0.3,10.2 2.6,10.2 H4.6 V18.5 Z"/><path d="M20.7,18.5 V12.5 Q20.7,10.2 18.4,10.2 H16.4 V18.5 Z"/></g></svg><svg class="ab" style="left:11px;top:356.5px" width="22" height="22" viewBox="0 0 22 22"><g fill="#5a5a5a"><path d="M0,4 H7.3 V0 L13.9,6.1 L7.3,12.2 V8.2 H0 Z"/><path d="M0,4 H7.3 V0 L13.9,6.1 L7.3,12.2 V8.2 H0 Z" transform="translate(6.8,9.3)"/></g></svg><svg class="ab" style="left:13px;top:414px" width="17" height="17" viewBox="0 0 17 17"><rect x="1.1" y="1.1" width="14.8" height="14.8" rx="0.8" fill="none" stroke="#222" stroke-width="2"/><path d="M1,6.6 H16 M5.6,6.6 V16" stroke="#222" stroke-width="1.5" fill="none"/></svg>

<div class="ab" style="left:217px;top:3px;width:15px;height:26px;box-sizing:border-box;background:#f6f6f6;border:1px solid #dedede;border-top:0;border-right:0"></div>
<div class="ab" style="left:221px;top:12px;width:0;height:0;border-right:5px solid #444;border-top:4px solid transparent;border-bottom:4px solid transparent"></div>
<div class="ab" style="left:7px;top:23px;width:201px;height:31px;box-sizing:border-box;background:#fff;border:1px solid #c6c6c6;border-top-color:#b5b5b5"></div>
<svg class="ab" style="left:15px;top:32px" width="13" height="13" viewBox="0 0 13 13"><circle cx="4.8" cy="4.8" r="3.5" fill="none" stroke="#c2c2c2" stroke-width="1.7"/><path d="M7.4,7.4 L11.5,11.5" stroke="#c2c2c2" stroke-width="2.2" stroke-linecap="round"/></svg>
<div class="t" style="left:33px;top:32.7px;font-size:12px;color:#aaa">Find reports &amp; more</div>

</div>
</body></html>
